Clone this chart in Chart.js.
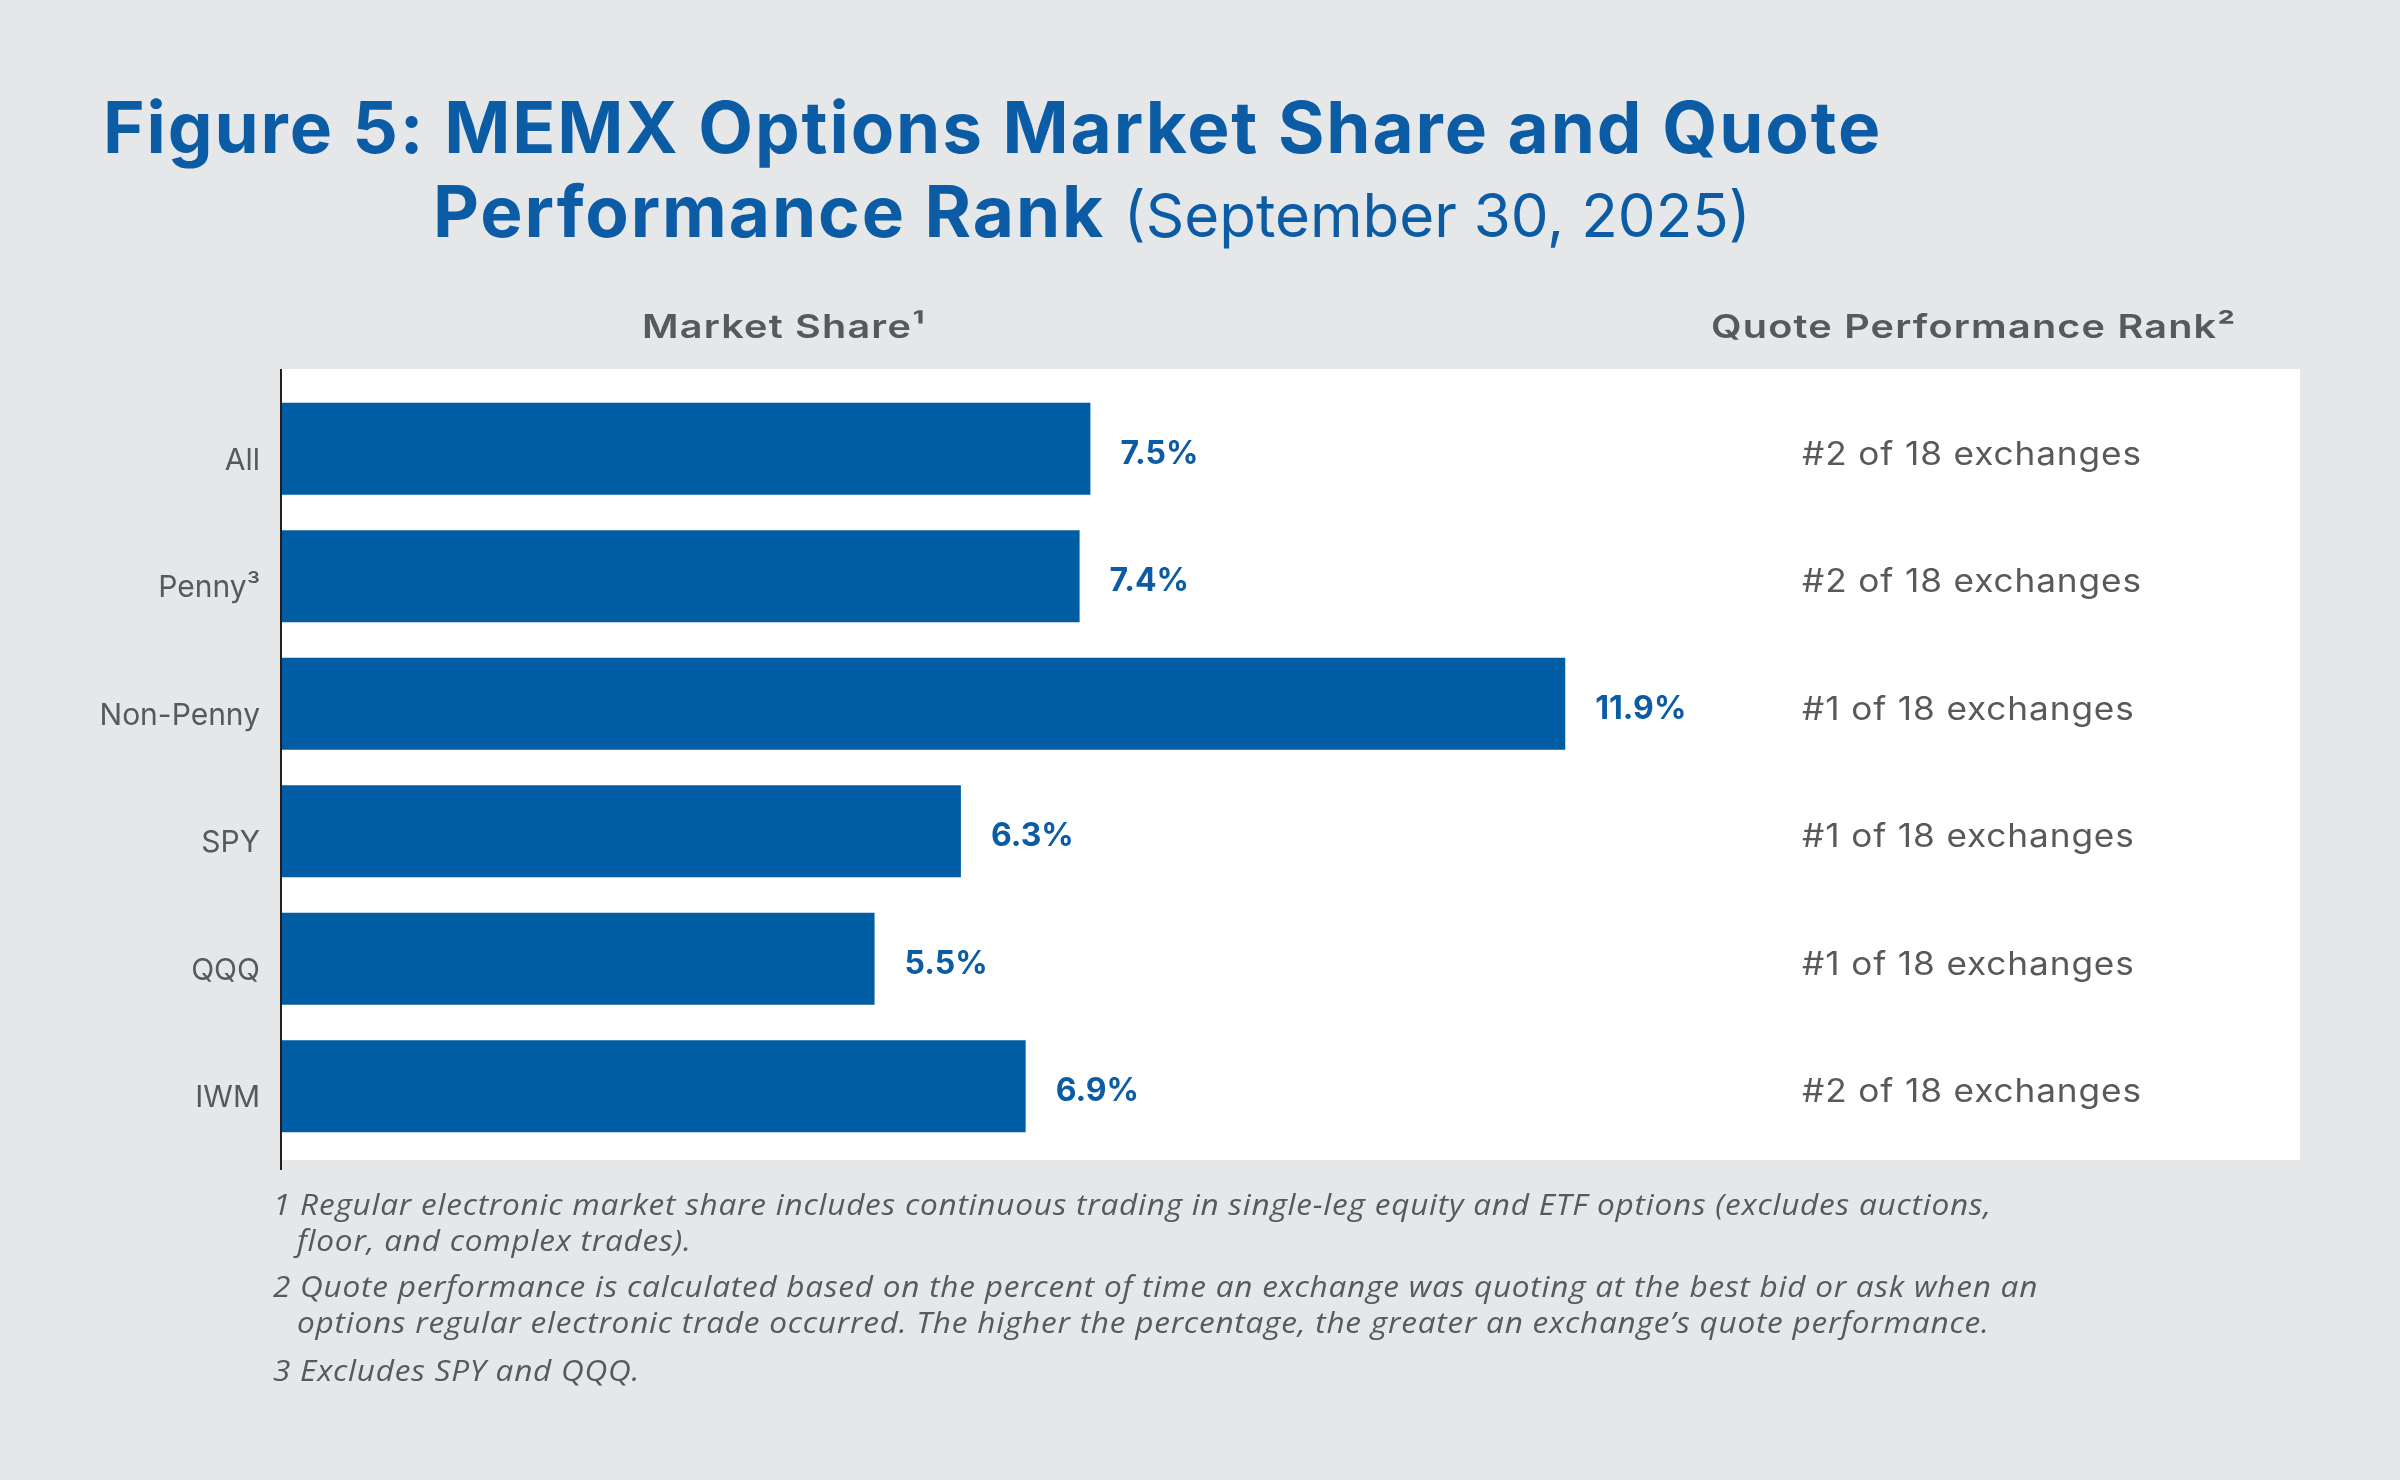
<!DOCTYPE html>
<html>
<head>
<meta charset="utf-8">
<script src="https://cdn.jsdelivr.net/npm/chart.js@4"></script>
<style>
  html, body { margin:0; padding:0; }
  body { width:2400px; height:1480px; background:#E6E7E9; position:relative; overflow:hidden; font-family:Inter, "Open Sans", sans-serif; }
  #c { position:absolute; left:0; top:0; width:2400px; height:1480px; }
  .t { position:absolute; white-space:nowrap; line-height:1; transform-origin:0 0; }
  .title { color:#0B5CA5; font-weight:700; font-size:71px; letter-spacing:1.9px; font-family:Inter, sans-serif; }
  .title .sub { font-weight:400; font-size:60px; letter-spacing:0; }
  .hdr { color:#58595B; font-weight:600; font-size:33px; letter-spacing:1px; font-family:Inter, sans-serif; transform:scaleX(1.2); }
  .fn { color:#58595B; font-style:italic; font-size:29px; letter-spacing:0.7px; font-family:"Open Sans", sans-serif; transform:scaleX(1.088); }
</style>
</head>
<body>
<canvas id="c" width="2400" height="1480"></canvas>

<div class="t title" style="left:103px; top:92px;">Figure 5: MEMX Options Market Share and Quote</div>
<div class="t title" style="left:433px; top:176px;">Performance Rank <span class="sub">(September 30, 2025)</span></div>

<div class="t hdr" style="left:642px; top:310px;">Market Share¹</div>
<div class="t hdr" style="left:1711px; top:310px;">Quote Performance Rank²</div>

<div class="t fn" style="left:273px; top:1189px;">1 Regular electronic market share includes continuous trading in single-leg equity and ETF options (excludes auctions,</div>
<div class="t fn" style="left:297px; top:1225px;">floor, and complex trades).</div>
<div class="t fn" style="left:273px; top:1271px;">2 Quote performance is calculated based on the percent of time an exchange was quoting at the best bid or ask when an</div>
<div class="t fn" style="left:297px; top:1307px;">options regular electronic trade occurred. The higher the percentage, the greater an exchange’s quote performance.</div>
<div class="t fn" style="left:273px; top:1355px;">3 Excludes SPY and QQQ.</div>

<script>
// ---- data ----
const categories = ['All', 'Penny³', 'Non-Penny', 'SPY', 'QQQ', 'IWM'];
const marketShare = [7.5, 7.4, 11.9, 6.3, 5.5, 6.9];
const valueLabels = ['7.5%', '7.4%', '11.9%', '6.3%', '5.5%', '6.9%'];
const rankLabels = ['#2 of 18 exchanges', '#2 of 18 exchanges', '#1 of 18 exchanges',
                    '#1 of 18 exchanges', '#1 of 18 exchanges', '#2 of 18 exchanges'];
const axisMin = 0;
const axisMax = 12.5;

const BAR = '#005DA3';
const GREY_TEXT = '#58595B';

const panelPlugin = {
  id: 'panel',
  beforeDraw(chart) {
    const { ctx, chartArea: ca } = chart;
    ctx.save();
    ctx.fillStyle = '#FFFFFF';
    ctx.fillRect(ca.left + 1, ca.top - 16, 2300 - (ca.left + 1), (ca.bottom + 10) - (ca.top - 16));
    ctx.restore();
  },
  afterDraw(chart) {
    const { ctx, chartArea: ca } = chart;
    ctx.save();
    ctx.strokeStyle = '#231F20';
    ctx.lineWidth = 2;
    ctx.beginPath();
    ctx.moveTo(ca.left, ca.top - 16);
    ctx.lineTo(ca.left, ca.bottom + 20);
    ctx.stroke();
    ctx.restore();
  }
};

const labelPlugin = {
  id: 'barLabels',
  afterDatasetsDraw(chart) {
    const { ctx } = chart;
    const meta = chart.getDatasetMeta(0);
    meta.data.forEach((bar, i) => {
      ctx.save();
      ctx.textBaseline = 'alphabetic';
      ctx.textAlign = 'left';
      ctx.font = '700 32px Inter, sans-serif';
      ctx.fillStyle = '#0B5CA5';
      ctx.fillText(valueLabels[i], bar.x + 30, bar.y + 15);
      ctx.restore();

      ctx.save();
      ctx.textBaseline = 'alphabetic';
      ctx.textAlign = 'left';
      ctx.font = '400 32px Inter, sans-serif';
      ctx.fillStyle = GREY_TEXT;
      ctx.letterSpacing = '0.8px';
      ctx.translate(1802, bar.y + 16);
      ctx.scale(1.1, 1);
      ctx.fillText(rankLabels[i], 0, 0);
      ctx.restore();
    });
  }
};

new Chart(document.getElementById('c'), {
  type: 'bar',
  data: {
    labels: categories,
    datasets: [{
      data: marketShare,
      backgroundColor: BAR,
      borderWidth: 0,
      barPercentage: 0.72,
      categoryPercentage: 1
    }]
  },
  options: {
    indexAxis: 'y',
    responsive: false,
    devicePixelRatio: 1,
    animation: false,
    layout: { padding: { left: 0, top: 385, right: 770, bottom: 330 } },
    plugins: { legend: { display: false }, tooltip: { enabled: false } },
    scales: {
      x: { display: false, min: axisMin, max: axisMax },
      y: {
        grid: { display: false, drawTicks: false },
        border: { display: true, color: '#231F20', width: 2 },
        ticks: {
          color: GREY_TEXT,
          font: { family: 'Inter, sans-serif', size: 30 },
          padding: 21,
          labelOffset: 12
        },
        afterFit(s) { s.width = 281; }
      }
    }
  },
  plugins: [panelPlugin, labelPlugin]
});
</script>
</body>
</html>
